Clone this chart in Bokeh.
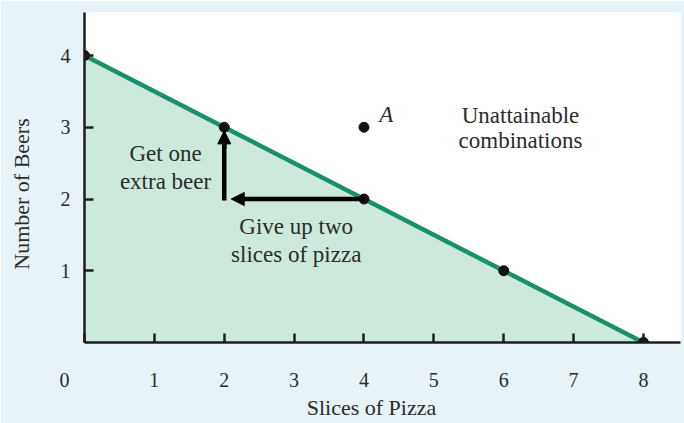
from bokeh.plotting import figure
from bokeh.models import Arrow, NormalHead, FixedTicker, Range1d, ColumnDataSource
from bokeh.core.properties import value
from bokeh.embed import file_html
from bokeh.resources import INLINE

# Budget constraint: beers vs. slices of pizza
pizza_slices = [0, 2, 4, 6, 8]
beers = [4, 3, 2, 1, 0]
point_a = (4, 3)
x_ticks = [0, 1, 2, 3, 4, 5, 6, 7, 8]
y_ticks = [1, 2, 3, 4]
x_title = "Slices of Pizza"
y_title = "Number of Beers"

FONT = value("Liberation Serif")
INK = "#2b2b2b"
BG = "#e7f3f6"
EM = "\u2003"

p = figure(width=684, height=423, output_backend="svg", toolbar_location=None,
           x_range=Range1d(0, 8.53), y_range=Range1d(0, 4.6),
           min_border_left=84, min_border_right=4, min_border_top=12, min_border_bottom=81)
p.background_fill_color = "white"
p.border_fill_color = BG
p.outline_line_color = None
p.grid.visible = False

# Attainable region under the budget line
region_x = pizza_slices + [0]
region_y = beers + [0]
p.patch(region_x, region_y, fill_color="#cde9dc", line_color=None)
p.line(pizza_slices, beers, line_color="#18916a", line_width=4.5)

# Axes
for ax, ticks in ((p.xaxis[0], x_ticks), (p.yaxis[0], y_ticks)):
    ax.ticker = FixedTicker(ticks=ticks)
    ax.axis_line_width = 2.5
    ax.axis_line_color = "#1e1e1e"
    ax.major_tick_in = 9
    ax.major_tick_out = 0
    ax.major_tick_line_width = 2.5
    ax.major_tick_line_color = "#1e1e1e"
    ax.minor_tick_line_color = None
    ax.major_label_text_font = "Liberation Serif"
    ax.major_label_text_font_size = "20px"
    ax.major_label_text_color = INK
    ax.axis_label_text_font = "Liberation Serif"
    ax.axis_label_text_font_size = "22px"
    ax.axis_label_text_font_style = "normal"
    ax.axis_label_text_color = INK
p.xaxis.major_label_standoff = 26
p.yaxis.major_label_standoff = 14
p.yaxis.major_label_orientation = "horizontal"
# the shared origin "0" sits down-left of the corner
p.xaxis.major_label_overrides = {0: "0" + EM + EM}
p.xaxis.axis_label = x_title + EM
p.yaxis.axis_label = y_title + EM + "\u2002"
p.xaxis.axis_label_standoff = 1
p.yaxis.axis_label_standoff = 24

# Trade-off arrows: give up pizza, get beer
x0, y0 = pizza_slices[2], beers[2]
x1, y1 = pizza_slices[1], beers[1]
p.segment(x0=[x1], y0=[y0 - 0.02], x1=[x1], y1=[y1 - 0.2], line_color="black", line_width=4.5)
p.add_layout(Arrow(end=NormalHead(size=13, fill_color="black", line_color="black"),
                   x_start=x1, y_start=y1 - 0.3, x_end=x1, y_end=y1 - 0.05,
                   line_color="black", line_width=4.5))
p.add_layout(Arrow(end=NormalHead(size=13, fill_color="black", line_color="black"),
                   x_start=x0, y_start=y0, x_end=x1 + 0.1, y_end=y0,
                   line_color="black", line_width=4.5))

# Bundles on the line and the unattainable point A
p.scatter(pizza_slices, beers, size=10, color="#111111")
p.scatter([point_a[0]], [point_a[1]], size=10, color="#111111")

notes = ColumnDataSource(dict(
    x=[1.16, 1.16, 3.03, 3.03, 6.24, 6.24],
    y=[2.64, 2.25, 1.62, 1.23, 3.17, 2.82],
    t=["Get one", "extra beer", "Give up two", "slices of pizza", "Unattainable", "combinations"],
))
p.text(x="x", y="y", text="t", source=notes, text_font=FONT, text_font_size="23px",
       text_color=INK, text_align="center", text_baseline="middle")
p.text(x=[point_a[0] + 0.32], y=[point_a[1] + 0.18], text=["A"], text_font=FONT,
       text_font_size="23px", text_font_style="italic", text_color=INK,
       text_align="center", text_baseline="middle")

open("out.html", "w").write(file_html(p, INLINE))
